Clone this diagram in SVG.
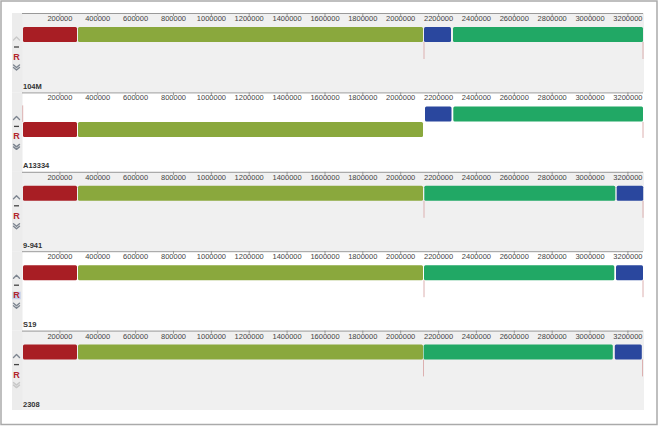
<svg xmlns="http://www.w3.org/2000/svg" width="659" height="426" viewBox="0 0 659 426">
<style>
.frame{fill:#fff;stroke:#aaa;stroke-width:1.5}
.bg-g{fill:#f0f0f0}
.bg-w{fill:#fff}
.strip{fill:#ececec}
.axis{stroke:#999;stroke-width:1;fill:none}
.tk{stroke:#888;stroke-width:0.8;fill:none}
.tl{font-family:"Liberation Sans",Arial,sans-serif;font-size:7.5px;fill:#444;text-anchor:middle}
.nm{font-family:"Liberation Sans",Arial,sans-serif;font-size:7.5px;font-weight:bold;fill:#333}
.R{font-family:"Liberation Sans",Arial,sans-serif;font-size:9px;font-weight:bold;fill:#b3262c;text-anchor:middle}
.r{fill:#a81e24}
.o{fill:#8aa83d}
.b{fill:#2a479e}
.t{fill:#21a865}
.mk{stroke:#dcb0b0;stroke-width:1}
.ctl{fill:none;stroke-width:1.4;stroke-linecap:round;stroke-linejoin:round}
.on{stroke:#7d8590}
.off{stroke:#c8c8c8}
.dash{stroke:#444;stroke-width:1.3}
.sel{fill:#c5d0ec}
</style>
<rect class="frame" x="1" y="1" width="656" height="423.5"/>

<g id="panel-104M" transform="translate(0,13)">
<rect class="bg-g" x="22" y="0" width="622" height="79.4"/>
<rect class="strip" x="12" y="0" width="10.5" height="79.4"/>
<line class="axis" x1="22" y1="0.5" x2="643" y2="0.5"/>
<path class="tk" d="M59.9 0v3M97.7 0v3M135.6 0v3M173.5 0v3M211.4 0v3M249.2 0v3M287.1 0v3M325 0v3M362.8 0v3M400.7 0v3M438.6 0v3M476.4 0v3M514.3 0v3M552.2 0v3M590 0v3M627.9 0v3"/>
<text class="tl" x="59.9" y="8">200000</text><text class="tl" x="97.7" y="8">400000</text><text class="tl" x="135.6" y="8">600000</text><text class="tl" x="173.5" y="8">800000</text><text class="tl" x="211.4" y="8">1000000</text><text class="tl" x="249.2" y="8">1200000</text><text class="tl" x="287.1" y="8">1400000</text><text class="tl" x="325" y="8">1600000</text><text class="tl" x="362.8" y="8">1800000</text><text class="tl" x="400.7" y="8">2000000</text><text class="tl" x="438.6" y="8">2200000</text><text class="tl" x="476.4" y="8">2400000</text><text class="tl" x="514.3" y="8">2600000</text><text class="tl" x="552.2" y="8">2800000</text><text class="tl" x="590" y="8">3000000</text><text class="tl" x="627.9" y="8">3200000</text>
<rect class="r" x="23" y="14" width="54" height="15" rx="1.5"/>
<rect class="o" x="78" y="14" width="345" height="15" rx="1.5"/>
<rect class="b" x="424" y="14" width="27" height="15" rx="1.5"/>
<rect class="t" x="453" y="14" width="190" height="15" rx="1.5"/>
<path class="mk" d="M424 29v17M643 29v17"/>
<path class="ctl off" d="M13.5 27L16.5 24L19.5 27"/>
<line class="dash" x1="14" y1="34" x2="19" y2="34"/>
<text class="R" x="16.5" y="47">R</text>
<path class="ctl on" d="M13.5 52L16.5 54.5L19.5 52M13.5 54.5L16.5 57L19.5 54.5"/>
<text class="nm" x="23" y="76">104M</text>
</g>

<g id="panel-A13334" transform="translate(0,92.4)">
<rect class="bg-w" x="22" y="0" width="622" height="79.4"/>
<rect class="strip" x="12" y="0" width="10.5" height="79.4"/>
<line class="axis" x1="22" y1="0.5" x2="643" y2="0.5"/>
<path class="tk" d="M59.9 0v3M97.7 0v3M135.6 0v3M173.5 0v3M211.4 0v3M249.2 0v3M287.1 0v3M325 0v3M362.8 0v3M400.7 0v3M438.6 0v3M476.4 0v3M514.3 0v3M552.2 0v3M590 0v3M627.9 0v3"/>
<text class="tl" x="59.9" y="8">200000</text><text class="tl" x="97.7" y="8">400000</text><text class="tl" x="135.6" y="8">600000</text><text class="tl" x="173.5" y="8">800000</text><text class="tl" x="211.4" y="8">1000000</text><text class="tl" x="249.2" y="8">1200000</text><text class="tl" x="287.1" y="8">1400000</text><text class="tl" x="325" y="8">1600000</text><text class="tl" x="362.8" y="8">1800000</text><text class="tl" x="400.7" y="8">2000000</text><text class="tl" x="438.6" y="8">2200000</text><text class="tl" x="476.4" y="8">2400000</text><text class="tl" x="514.3" y="8">2600000</text><text class="tl" x="552.2" y="8">2800000</text><text class="tl" x="590" y="8">3000000</text><text class="tl" x="627.9" y="8">3200000</text>
<path class="mk" d="M22.7 13v16.5M643 29.5v16"/>
<rect class="b" x="425" y="14" width="26.5" height="15" rx="1.5"/>
<rect class="t" x="453.3" y="14" width="189.7" height="15" rx="1.5"/>
<rect class="r" x="23" y="29.6" width="54" height="15" rx="1.5"/>
<rect class="o" x="78" y="29.6" width="345" height="15" rx="1.5"/>
<path class="ctl on" d="M13.5 27L16.5 24L19.5 27"/>
<line class="dash" x1="14" y1="34" x2="19" y2="34"/>
<text class="R" x="16.5" y="47">R</text>
<path class="ctl on" d="M13.5 52L16.5 54.5L19.5 52M13.5 54.5L16.5 57L19.5 54.5"/>
<text class="nm" x="23" y="76">A13334</text>
</g>

<g id="panel-9-941" transform="translate(0,171.8)">
<rect class="bg-g" x="22" y="0" width="622" height="79.4"/>
<rect class="strip" x="12" y="0" width="10.5" height="79.4"/>
<line class="axis" x1="22" y1="0.5" x2="643" y2="0.5"/>
<path class="tk" d="M59.9 0v3M97.7 0v3M135.6 0v3M173.5 0v3M211.4 0v3M249.2 0v3M287.1 0v3M325 0v3M362.8 0v3M400.7 0v3M438.6 0v3M476.4 0v3M514.3 0v3M552.2 0v3M590 0v3M627.9 0v3"/>
<text class="tl" x="59.9" y="8">200000</text><text class="tl" x="97.7" y="8">400000</text><text class="tl" x="135.6" y="8">600000</text><text class="tl" x="173.5" y="8">800000</text><text class="tl" x="211.4" y="8">1000000</text><text class="tl" x="249.2" y="8">1200000</text><text class="tl" x="287.1" y="8">1400000</text><text class="tl" x="325" y="8">1600000</text><text class="tl" x="362.8" y="8">1800000</text><text class="tl" x="400.7" y="8">2000000</text><text class="tl" x="438.6" y="8">2200000</text><text class="tl" x="476.4" y="8">2400000</text><text class="tl" x="514.3" y="8">2600000</text><text class="tl" x="552.2" y="8">2800000</text><text class="tl" x="590" y="8">3000000</text><text class="tl" x="627.9" y="8">3200000</text>
<rect class="r" x="23" y="14" width="54" height="15" rx="1.5"/>
<rect class="o" x="78" y="14" width="345" height="15" rx="1.5"/>
<rect class="t" x="424.3" y="14" width="191" height="15" rx="1.5"/>
<rect class="b" x="616.7" y="14" width="26.5" height="15" rx="1.5"/>
<path class="mk" d="M424 29v17M643 29v17"/>
<path class="ctl on" d="M13.5 27L16.5 24L19.5 27"/>
<line class="dash" x1="14" y1="34" x2="19" y2="34"/>
<text class="R" x="16.5" y="47">R</text>
<path class="ctl on" d="M13.5 52L16.5 54.5L19.5 52M13.5 54.5L16.5 57L19.5 54.5"/>
<text class="nm" x="23" y="76">9-941</text>
</g>

<g id="panel-S19" transform="translate(0,251.2)">
<rect class="bg-w" x="22" y="0" width="622" height="79.4"/>
<rect class="strip" x="12" y="0" width="10.5" height="79.4"/>
<line class="axis" x1="22" y1="0.5" x2="643" y2="0.5"/>
<path class="tk" d="M59.9 0v3M97.7 0v3M135.6 0v3M173.5 0v3M211.4 0v3M249.2 0v3M287.1 0v3M325 0v3M362.8 0v3M400.7 0v3M438.6 0v3M476.4 0v3M514.3 0v3M552.2 0v3M590 0v3M627.9 0v3"/>
<text class="tl" x="59.9" y="8">200000</text><text class="tl" x="97.7" y="8">400000</text><text class="tl" x="135.6" y="8">600000</text><text class="tl" x="173.5" y="8">800000</text><text class="tl" x="211.4" y="8">1000000</text><text class="tl" x="249.2" y="8">1200000</text><text class="tl" x="287.1" y="8">1400000</text><text class="tl" x="325" y="8">1600000</text><text class="tl" x="362.8" y="8">1800000</text><text class="tl" x="400.7" y="8">2000000</text><text class="tl" x="438.6" y="8">2200000</text><text class="tl" x="476.4" y="8">2400000</text><text class="tl" x="514.3" y="8">2600000</text><text class="tl" x="552.2" y="8">2800000</text><text class="tl" x="590" y="8">3000000</text><text class="tl" x="627.9" y="8">3200000</text>
<rect class="r" x="23" y="14" width="54" height="15" rx="1.5"/>
<rect class="o" x="78" y="14" width="345" height="15" rx="1.5"/>
<rect class="t" x="424" y="14" width="190.3" height="15" rx="1.5"/>
<rect class="b" x="616" y="14" width="27" height="15" rx="1.5"/>
<path class="mk" d="M424 29v17M643 29v17"/>
<path class="ctl on" d="M13.5 27L16.5 24L19.5 27"/>
<line class="dash" x1="14" y1="34" x2="19" y2="34"/>
<rect class="sel" x="12.3" y="40.5" width="8.4" height="7.6"/>
<text class="R" x="16.5" y="47">R</text>
<path class="ctl on" d="M13.5 52L16.5 54.5L19.5 52M13.5 54.5L16.5 57L19.5 54.5"/>
<text class="nm" x="23" y="76">S19</text>
</g>

<g id="panel-2308" transform="translate(0,330.6)">
<rect class="bg-g" x="22" y="0" width="622" height="79.4"/>
<rect class="strip" x="12" y="0" width="10.5" height="79.4"/>
<line class="axis" x1="22" y1="0.5" x2="643" y2="0.5"/>
<path class="tk" d="M59.9 0v3M97.7 0v3M135.6 0v3M173.5 0v3M211.4 0v3M249.2 0v3M287.1 0v3M325 0v3M362.8 0v3M400.7 0v3M438.6 0v3M476.4 0v3M514.3 0v3M552.2 0v3M590 0v3M627.9 0v3"/>
<text class="tl" x="59.9" y="8">200000</text><text class="tl" x="97.7" y="8">400000</text><text class="tl" x="135.6" y="8">600000</text><text class="tl" x="173.5" y="8">800000</text><text class="tl" x="211.4" y="8">1000000</text><text class="tl" x="249.2" y="8">1200000</text><text class="tl" x="287.1" y="8">1400000</text><text class="tl" x="325" y="8">1600000</text><text class="tl" x="362.8" y="8">1800000</text><text class="tl" x="400.7" y="8">2000000</text><text class="tl" x="438.6" y="8">2200000</text><text class="tl" x="476.4" y="8">2400000</text><text class="tl" x="514.3" y="8">2600000</text><text class="tl" x="552.2" y="8">2800000</text><text class="tl" x="590" y="8">3000000</text><text class="tl" x="627.9" y="8">3200000</text>
<rect class="r" x="23" y="13.8" width="54" height="15" rx="1.5"/>
<rect class="o" x="78" y="13.8" width="345" height="15" rx="1.5"/>
<rect class="t" x="423.6" y="13.8" width="189.2" height="15" rx="1.5"/>
<rect class="b" x="614.8" y="13.8" width="27" height="15" rx="1.5"/>
<path class="mk" d="M423.5 28.8v17M642.5 28.8v17"/>
<path class="ctl on" d="M13.5 27L16.5 24L19.5 27"/>
<line class="dash" x1="14" y1="34" x2="19" y2="34"/>
<text class="R" x="16.5" y="47">R</text>
<path class="ctl off" d="M13.5 52L16.5 54.5L19.5 52M13.5 54.5L16.5 57L19.5 54.5"/>
<text class="nm" x="23" y="76">2308</text>
</g>
<g id="connectors"></g>
</svg>
